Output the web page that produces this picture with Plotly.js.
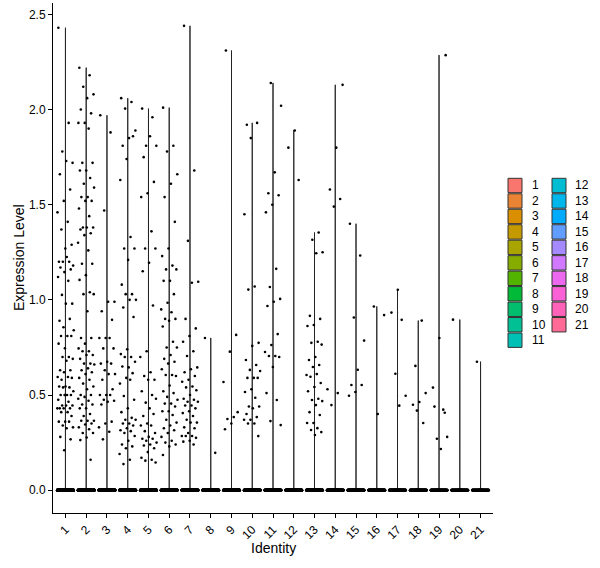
<!DOCTYPE html>
<html><head><meta charset="utf-8">
<script src="https://cdn.plot.ly/plotly-3.0.1.min.js"></script>
<style>html,body{margin:0;padding:0;background:#fff}</style>
</head><body><div id="chart" style="width:600px;height:568px"></div>
<script>
const identities = ['1','2','3','4','5','6','7','8','9','10','11','12','13','14','15','16','17','18','19','20','21'];
const zeroCounts = [420,400,380,360,340,320,300,280,260,240,230,220,210,200,190,180,170,160,150,140,130];

const c1 = [2.43,1.93,1.78,1.72,1.73,1.66,1.58,1.52,1.46,1.41,1.37,1.29,1.27,1.20,1.20,1.20,1.18,1.225,1.17,1.16,1.146,1.12,1.10,1.026,0.98,0.98,0.89,0.90,0.856,0.84,0.81,0.81,0.81,0.746,0.77,0.70,0.70,0.69,0.68,0.63,0.63,0.62,0.595,0.595,0.58,0.59,0.545,0.545,0.54,0.54,0.52,0.50,0.50,0.50,0.50,0.475,0.465,0.445,0.445,0.445,0.43,0.43,0.43,0.43,0.41,0.41,0.39,0.36,0.36,0.36,0.34,0.33,0.325,0.28,0.267,0.21];
const c2 = [2.22,2.18,2.12,2.08,2.06,2.0,1.98,1.93,1.93,1.90,1.72,1.72,1.68,1.68,1.64,1.61,1.59,1.54,1.54,1.52,1.52,1.48,1.44,1.38,1.38,1.38,1.37,1.35,1.34,1.30,1.26,1.19,1.19,1.13,1.105,1.04,1.03,1.03,0.94,0.80,0.80,0.77,0.745,0.73,0.73,0.71,0.71,0.69,0.665,0.665,0.66,0.64,0.63,0.62,0.61,0.59,0.58,0.56,0.545,0.53,0.50,0.50,0.49,0.48,0.47,0.45,0.45,0.43,0.43,0.40,0.39,0.365,0.365,0.365,0.35,0.345,0.33,0.32,0.30,0.30,0.277,0.263,0.16];
const c3 = [1.97,1.88,1.47,0.99,0.99,0.94,0.895,0.80,0.80,0.80,0.745,0.745,0.675,0.665,0.665,0.63,0.61,0.61,0.58,0.53,0.50,0.50,0.50,0.475,0.47,0.465,0.45,0.36,0.35,0.33,0.307,0.267];
const c4 = [2.06,2.04,2.005,1.89,1.85,1.81,1.86,1.74,1.63,1.33,1.27,1.27,1.21,1.08,1.03,1.03,1.0,1.0,0.96,0.91,0.74,0.715,0.70,0.70,0.675,0.645,0.65,0.615,0.59,0.56,0.58,0.495,0.475,0.43,0.41,0.38,0.37,0.37,0.35,0.35,0.34,0.325,0.315,0.31,0.30,0.285,0.26,0.24,0.23,0.22,0.19,0.16,0.137];
const c5 = [2.005,1.96,1.81,1.81,1.86,1.75,1.62,1.56,1.54,1.36,1.27,1.27,1.195,1.15,0.97,0.73,0.70,0.62,0.60,0.58,0.58,0.52,0.50,0.46,0.48,0.43,0.39,0.40,0.35,0.34,0.34,0.31,0.30,0.28,0.27,0.27,0.26,0.25,0.24,0.235,0.22,0.20,0.17,0.16,0.155,0.145];
const c6 = [2.01,1.81,1.78,1.66,1.61,1.54,1.41,1.27,1.23,1.18,1.16,1.16,1.10,1.10,1.03,0.985,0.95,0.935,0.90,0.90,0.89,0.86,0.78,0.75,0.75,0.71,0.69,0.675,0.665,0.635,0.605,0.605,0.60,0.55,0.52,0.51,0.49,0.475,0.455,0.455,0.44,0.415,0.415,0.395,0.37,0.355,0.34,0.325,0.315,0.30,0.28,0.26,0.25,0.24,0.23,0.185];
const c7 = [2.44,1.68,1.31,1.095,1.09,0.90,0.85,0.81,0.78,0.73,0.705,0.645,0.635,0.62,0.60,0.58,0.57,0.545,0.54,0.525,0.50,0.48,0.475,0.465,0.465,0.445,0.445,0.43,0.415,0.405,0.39,0.37,0.355,0.355,0.33,0.325,0.30,0.285,0.285,0.285,0.275,0.26,0.255,0.24];
const c8 = [0.80,0.196];
const c9 = [2.31,0.816,0.728,0.568,0.384,0.374,0.41,0.35,0.32];
const c10 = [1.92,1.93,1.85,1.45,1.07,1.054,0.774,0.758,0.684,0.658,0.632,0.626,0.59,0.59,0.59,0.53,0.516,0.486,0.44,0.44,0.43,0.40,0.384,0.37,0.37,0.35,0.35,0.284];
const c11 = [2.14,2.02,1.67,1.56,1.55,1.50,1.46,1.163,1.068,1.005,0.99,0.968,0.82,0.763,0.726,0.705,0.705,0.70,0.647,0.51,0.474,0.363,0.342];
const c12 = [1.89,1.80,1.63];
const c13 = [1.354,1.316,1.25,1.245,0.916,0.90,0.868,0.863,0.78,0.774,0.765,0.70,0.684,0.658,0.647,0.605,0.61,0.596,0.563,0.542,0.52,0.48,0.474,0.468,0.447,0.41,0.395,0.353,0.353,0.326,0.316,0.305,0.29];
const c14 = [2.13,1.80,1.58,1.53,1.49,0.53,0.51,0.447];
const c15 = [1.40,1.233,0.907,0.786,0.633,0.553,0.553,0.516,0.496];
const c16 = [0.965,0.92,0.40];
const c17 = [1.053,0.933,0.895,0.612,0.496,0.444];
const c18 = [0.891,0.653,0.51,0.463,0.449,0.353,0.418];
const c19 = [2.286,0.80,0.539,0.423,0.27,0.28,0.216,0.439,0.407];
const c20 = [0.896];
const c21 = [0.675];
const nonzeroValues = [c1,c2,c3,c4,c5,c6,c7,c8,c9,c10,c11,c12,c13,c14,c15,c16,c17,c18,c19,c20,c21];
const yTicks = [0, 0.5, 1.0, 1.5, 2.0, 2.5];

// ggplot2 default hue palette (hcl, l=65, c=100)
function hcl(h, c, l) {
  const hr = h * Math.PI / 180;
  const U = c * Math.cos(hr), V = c * Math.sin(hr);
  const Y = 100 * Math.pow((l + 16) / 116, 3);
  const un = 0.1978398, vn = 0.4683363;
  const u = U / (13 * l) + un, v = V / (13 * l) + vn;
  const X = 9 * Y * u / (4 * v);
  const Z = -X / 3 - 5 * Y + 3 * Y / v;
  const gam = t => { t = t <= 0.0031308 ? 12.92 * t : 1.055 * Math.pow(t, 1 / 2.4) - 0.055; return Math.round(255 * Math.max(0, Math.min(1, t))); };
  const r = (3.240479 * X - 1.537150 * Y - 0.498535 * Z) / 100;
  const g = (-0.969256 * X + 1.875992 * Y + 0.041556 * Z) / 100;
  const b = (0.055648 * X - 0.204043 * Y + 1.057311 * Z) / 100;
  return 'rgb(' + gam(r) + ',' + gam(g) + ',' + gam(b) + ')';
}
const n = identities.length;
const colors = identities.map((_, i) => hcl(15 + 360 * i / n, 100, 65));

const W = 600, H = 568, ML = 53, MR = 107, MT = 3, MB = 55;
const PW = W - ML - MR, PH = H - MT - MB;
const px2x = px => (px - ML) / PW;
const py2y = py => (H - MB - py) / PH;

// deterministic jitter (like geom_jitter width 0.4), golden-ratio sequence
const JITTER = 0.4, PHI = 0.6180339887;
const jitterOffset = (k, i) => { const f = (0.5 + k * PHI + i * 0.3719) % 1; return JITTER * (2 * f - 1); };

const violins = [], pointTraces = [];
identities.forEach((id, i) => {
  const vals = new Array(zeroCounts[i]).fill(0).concat(nonzeroValues[i]);
  const pos = i + 1;
  violins.push({
    type: 'violin', x0: pos, y: vals, name: id,
    points: false, width: 0.9, scalemode: 'width', spanmode: 'hard', bandwidth: 0.003,
    line: {color: 'black', width: 0.9}, fillcolor: colors[i],
    box: {visible: false}, meanline: {visible: false}, hoverinfo: 'skip', showlegend: false
  });
  pointTraces.push({
    type: 'scatter', mode: 'markers',
    x: vals.map((_, k) => pos + jitterOffset(k, i)), y: vals,
    marker: {color: 'black', size: 2.6}, hoverinfo: 'skip', showlegend: false, cliponaxis: false
  });
});

const font = 'Liberation Sans, Arial, sans-serif';
const shapes = [], annotations = [];
const rowPitch = 15.47, row0 = 185.5, keyHalf = 7.2;
identities.forEach((id, i) => {
  const col = i < 11 ? 0 : 1;
  const row = col === 0 ? i : i - 11;
  const kx0 = col === 0 ? 508 : 552;
  const lx = col === 0 ? 530 : 573;
  const yc = row0 + row * rowPitch;
  shapes.push({type: 'rect', xref: 'paper', yref: 'paper',
    x0: px2x(kx0), x1: px2x(kx0 + 14), y0: py2y(yc - keyHalf), y1: py2y(yc + keyHalf),
    fillcolor: colors[i], line: {color: '#333333', width: 1}});
  annotations.push({xref: 'paper', yref: 'paper', x: px2x(lx), y: py2y(yc), xanchor: 'left', yanchor: 'middle',
    text: id, showarrow: false, font: {family: font, size: 12, color: 'black'}});
});
annotations.push({xref: 'paper', yref: 'paper', x: 0.5, y: py2y(548), xanchor: 'center', yanchor: 'middle',
  text: 'Identity', showarrow: false, font: {family: font, size: 14, color: 'black'}});
annotations.push({xref: 'paper', yref: 'paper', x: px2x(19), y: py2y(258), xanchor: 'center', yanchor: 'middle',
  text: 'Expression Level', textangle: -90, showarrow: false, font: {family: font, size: 14, color: 'black'}});

const layout = {
  width: W, height: H,
  margin: {l: ML, r: MR, t: MT, b: MB, pad: 0},
  paper_bgcolor: 'white', plot_bgcolor: 'white',
  showlegend: false,
  violinmode: 'overlay',
  xaxis: {type: 'linear', range: [0.4, 21.6], tickvals: identities.map((_, i) => i + 1), ticktext: identities,
    showline: true, linecolor: 'black', linewidth: 1, ticks: 'outside', ticklen: 4, tickcolor: 'black', tickwidth: 1,
    tickangle: -45, tickfont: {family: font, size: 12, color: 'black'}, showgrid: false, zeroline: false, automargin: false},
  yaxis: {range: [-0.12, 2.56], tickvals: yTicks, tickformat: '.1f',
    showline: true, linecolor: 'black', linewidth: 1, ticks: 'outside', ticklen: 4, tickcolor: 'black', tickwidth: 1,
    tickfont: {family: font, size: 12, color: 'black'}, showgrid: false, zeroline: false, automargin: false},
  shapes: shapes,
  annotations: annotations
};
Plotly.newPlot('chart', violins.concat(pointTraces), layout, {staticPlot: true, displayModeBar: false});
</script></body></html>
